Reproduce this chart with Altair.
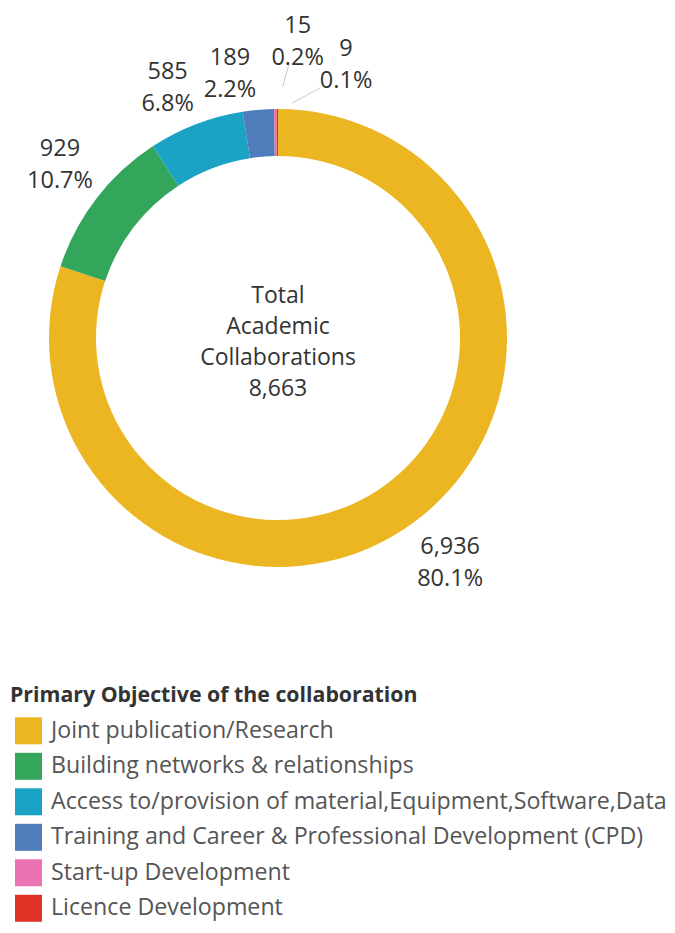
import math
import altair as alt
import pandas as pd

# ---- data ----
categories = [
    "Joint publication/Research",
    "Building networks & relationships",
    "Access to/provision of material,Equipment,Software,Data",
    "Training and Career & Professional Development (CPD)",
    "Start-up Development",
    "Licence Development",
]
counts = [6936, 929, 585, 189, 15, 9]
colors = ["#EBB622", "#33A65C", "#1BA3C6", "#4F7CBA", "#EB73B3", "#E03426"]
center_lines = ["Total", "Academic", "Collaborations"]

total = sum(counts)

df = pd.DataFrame({"cat": categories, "count": counts})
df["end"] = df["count"].cumsum()
df["start"] = df["end"] - df["count"]
df["mid"] = (df["start"] + df["end"]) / 2
df["pct"] = df["count"] / total * 100
df["label"] = [f"{c:,}\n{p:.1f}%" for c, p in zip(df["count"], df["pct"])]

# ---- layout / style ----
FONT = "Open Sans"
W, H = 540, 660
CX, CY = W / 2, H / 2
R_OUT, R_IN, R_LAB = 229, 182, 280
LAB_LH = 32
CEN_LH = 31

# visual label nudges (style) per category index
nudges = {0: (8, -2), 1: (4, -2), 2: (-10, 11), 3: (-24, 15), 4: (23, -16), 5: (69, 7)}
# leader line offsets relative to label centre (style) for the tiny slices
leader_offsets = {4: ((-15, 45), (-9, 23)), 5: ((-54, 38), (-26, 23))}

theta_scale = alt.Scale(domain=[0, total], range=[0, 2 * math.pi])

base = alt.Chart(df)

arcs = base.mark_arc(outerRadius=R_OUT, innerRadius=R_IN).encode(
    theta=alt.Theta("start:Q", scale=theta_scale),
    theta2="end:Q",
    color=alt.Color(
        "cat:N",
        scale=alt.Scale(domain=categories, range=colors),
        sort=categories,
        legend=alt.Legend(
            title="Primary Objective of the collaboration",
            orient="none",
            legendX=2,
            legendY=677,
            symbolType="square",
            symbolSize=729,
            symbolStrokeWidth=0,
            symbolOffset=5,
            labelFontSize=23.2,
            labelFont=FONT,
            labelColor="#555555",
            labelOffset=9,
            labelLimit=800,
            titleFontSize=21.3,
            titleFont=FONT,
            titleFontWeight="bold",
            titleColor="#333333",
            titlePadding=11,
            titleLimit=800,
            rowPadding=8.5,
            padding=0,
        ),
    ),
)

label_layers = []
for i, cat in enumerate(categories):
    dx, dy = nudges[i]
    label_layers.append(
        base.transform_filter(alt.datum.cat == cat)
        .mark_text(
            radius=R_LAB, dx=dx, dy=dy - LAB_LH / 2, fontSize=23.5, font=FONT,
            color="#333333", lineBreak="\n", lineHeight=LAB_LH, align="center",
            baseline="middle",
        )
        .encode(theta=alt.Theta("mid:Q", scale=theta_scale), text="label:N")
    )

# leader lines for the tiny slices, anchored on the label centres
rows = []
for i, ((sx, sy), (ex, ey)) in leader_offsets.items():
    a = df["mid"].iloc[i] / total * 2 * math.pi
    ax = CX + R_LAB * math.sin(a) + nudges[i][0]
    ay = CY - R_LAB * math.cos(a) + nudges[i][1]
    rows.append({"x1": ax + sx, "y1": ay + sy, "x2": ax + ex, "y2": ay + ey})
leaders = alt.Chart(pd.DataFrame(rows)).mark_rule(color="#C8C8C8", strokeWidth=1).encode(
    x=alt.X("x1:Q", scale=None, axis=None),
    y=alt.Y("y1:Q", scale=None, axis=None),
    x2="x2:Q",
    y2="y2:Q",
)

center_all = center_lines + [f"{total:,}"]
center_text = "\n".join(center_all)
center = alt.Chart(pd.DataFrame({"t": [center_text]})).mark_text(
    fontSize=23, font=FONT, color="#333333", lineBreak="\n", lineHeight=CEN_LH,
    align="center", baseline="middle",
).encode(
    text="t:N",
    x=alt.value(CX),
    y=alt.value(CY + 4 - CEN_LH * (len(center_all) - 1) / 2),
)

chart = (
    alt.layer(arcs, *label_layers, leaders, center)
    .properties(
        width=W,
        height=H,
        autosize=alt.AutoSizeParams(type="none"),
        padding={"left": 0, "top": 0, "right": 119, "bottom": 257},
    )
    .configure_view(stroke=None)
)

chart.save("out.html", embed_options={"renderer": "svg", "actions": False})
